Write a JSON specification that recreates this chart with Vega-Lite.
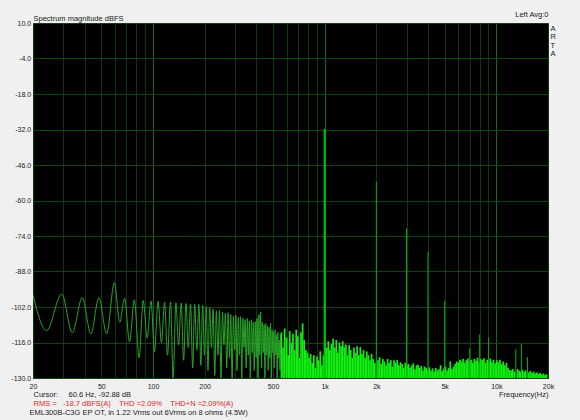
{
  "$schema": "https://vega.github.io/schema/vega-lite/v6.json",
  "width": 515,
  "height": 355,
  "autosize": {"type": "none"},
  "padding": {"left": 33, "top": 23, "right": 32, "bottom": 42},
  "background": "#f0f0f0",
  "config": {
    "font": "Liberation Sans",
    "view": {"fill": "#000000", "stroke": "#2f8f2f", "strokeWidth": 1},
    "axis": {
      "labelFont": "Liberation Sans",
      "labelFontSize": 7,
      "labelColor": "#1a1a1a",
      "titleFont": "Liberation Sans",
      "titleFontSize": 7.5,
      "titleFontWeight": "normal",
      "titleColor": "#1a1a1a",
      "titlePadding": 0
    }
  },
  "datasets": {
    "lf": [
      {"f":20,"d":-97.3},{"f":24,"d":-111.3},{"f":29.4,"d":-96.9},{"f":33.9,"d":-112.1},{"f":38.7,"d":-98.3},{"f":43.5,"d":-112.6},{"f":48.4,"d":-98.3},{"f":53.7,"d":-112.6},{"f":59.6,"d":-92.4},{"f":64,"d":-108},{"f":68.3,"d":-98.5},{"f":73,"d":-115.7},{"f":77.9,"d":-99.2},{"f":83,"d":-122},{"f":87.7,"d":-99.4},{"f":92.5,"d":-114.3},{"f":97.4,"d":-99.6},{"f":102,"d":-119.6},{"f":107,"d":-99.8},{"f":112,"d":-116},{"f":116.8,"d":-100},{"f":121.5,"d":-121},{"f":126.5,"d":-100},{"f":131,"d":-130},{"f":136,"d":-100.3},{"f":141,"d":-117},{"f":146,"d":-100.4},{"f":150.8,"d":-123},{"f":155.7,"d":-100.6},{"f":160.5,"d":-118},{"f":165.5,"d":-100.8},{"f":170.3,"d":-126},{"f":175,"d":-100.8},{"f":180,"d":-119},{"f":185,"d":-101},{"f":190,"d":-125},{"f":194.7,"d":-101.2},{"f":199.5,"d":-121},{"f":204.5,"d":-101.8},{"f":209,"d":-127},{"f":214,"d":-102.2},{"f":219,"d":-118},{"f":224,"d":-102.8},{"f":229,"d":-129},{"f":234,"d":-103.5},{"f":239,"d":-121},{"f":244,"d":-103.3},{"f":249,"d":-130},{"f":254,"d":-104},{"f":259,"d":-117},{"f":264,"d":-104.5},{"f":269,"d":-126},{"f":274,"d":-104.2},{"f":279,"d":-122},{"f":284,"d":-105},{"f":289,"d":-130},{"f":294,"d":-105.5},{"f":299,"d":-119},{"f":304,"d":-105.2},{"f":309,"d":-127},{"f":314,"d":-106},{"f":319,"d":-121},{"f":324,"d":-105.8},{"f":329,"d":-130},{"f":334,"d":-106.5},{"f":339,"d":-118},{"f":344,"d":-107},{"f":349,"d":-126},{"f":354,"d":-106.5},{"f":359,"d":-121},{"f":364,"d":-107.5},{"f":369,"d":-130},{"f":374,"d":-107},{"f":379,"d":-120},{"f":384,"d":-108},{"f":389,"d":-127},{"f":394,"d":-107.8},{"f":399,"d":-122},{"f":404,"d":-106.5},{"f":409,"d":-130},{"f":414,"d":-105},{"f":419,"d":-121},{"f":424,"d":-103.9},{"f":429,"d":-126},{"f":434,"d":-108},{"f":439,"d":-120},{"f":444,"d":-109},{"f":449,"d":-130},{"f":454,"d":-108.5},{"f":459,"d":-121},{"f":464,"d":-109.5},{"f":469,"d":-127},{"f":474,"d":-110},{"f":479,"d":-122},{"f":484,"d":-108.5},{"f":489,"d":-130},{"f":494,"d":-111},{"f":499,"d":-120},{"f":504,"d":-112},{"f":509,"d":-126},{"f":514,"d":-111},{"f":519,"d":-121},{"f":524,"d":-113},{"f":529,"d":-130},{"f":534,"d":-112},{"f":539,"d":-122},{"f":544,"d":-115},{"f":549,"d":-127},{"f":554,"d":-113}
    ],
    "noise": [
      {"f":560,"d":-112},{"f":572,"d":-118},{"f":585,"d":-110.5},{"f":600,"d":-114},{"f":613,"d":-121},{"f":626,"d":-111.5},{"f":640,"d":-116},{"f":654,"d":-112.5},{"f":668,"d":-119},{"f":683,"d":-111},{"f":698,"d":-113.5},{"f":713,"d":-122},{"f":728,"d":-112},{"f":744,"d":-108.5},{"f":760,"d":-115},{"f":777,"d":-119},{"f":794,"d":-120},{"f":811,"d":-122},{"f":829,"d":-120.5},{"f":847,"d":-124},{"f":865,"d":-121},{"f":884,"d":-126},{"f":903,"d":-121.5},{"f":923,"d":-123},{"f":943,"d":-119.5},{"f":963,"d":-125},{"f":984,"d":-121},
      {"f":1005,"d":-116},{"f":1027,"d":-118},{"f":1050,"d":-115.5},{"f":1072,"d":-119},{"f":1096,"d":-116.5},{"f":1120,"d":-114.5},{"f":1144,"d":-118},{"f":1169,"d":-115},{"f":1194,"d":-120},{"f":1220,"d":-116},{"f":1247,"d":-117.5},{"f":1274,"d":-115.5},{"f":1302,"d":-118},{"f":1330,"d":-116.8},{"f":1359,"d":-121},{"f":1389,"d":-117},{"f":1419,"d":-119},{"f":1450,"d":-122},{"f":1481,"d":-118},{"f":1513,"d":-120},{"f":1546,"d":-117.5},{"f":1580,"d":-121},{"f":1614,"d":-117.8},{"f":1649,"d":-120.5},{"f":1685,"d":-119},{"f":1722,"d":-122},{"f":1759,"d":-119.5},{"f":1798,"d":-121},{"f":1837,"d":-123},{"f":1877,"d":-120.5},{"f":1918,"d":-122.5},{"f":1959,"d":-124},
      {"f":2045,"d":-123},{"f":2090,"d":-121.8},{"f":2135,"d":-124.5},{"f":2182,"d":-122.5},{"f":2229,"d":-123.5},{"f":2278,"d":-125},{"f":2327,"d":-122.5},{"f":2378,"d":-124},{"f":2430,"d":-123},{"f":2483,"d":-125.5},{"f":2537,"d":-123},{"f":2592,"d":-124},{"f":2648,"d":-122.8},{"f":2706,"d":-125},{"f":2765,"d":-123.8},{"f":2825,"d":-124.5},{"f":2887,"d":-126},{"f":2950,"d":-124},{"f":3014,"d":-125},{"f":3079,"d":-124.5},{"f":3146,"d":-126},{"f":3215,"d":-125},{"f":3285,"d":-124.2},{"f":3356,"d":-126.5},{"f":3429,"d":-125},{"f":3504,"d":-124.8},{"f":3580,"d":-126},{"f":3658,"d":-125.2},{"f":3738,"d":-127},{"f":3819,"d":-125.5},{"f":3902,"d":-126},{"f":3987,"d":-126.8},
      {"f":4074,"d":-125.8},{"f":4163,"d":-127},{"f":4253,"d":-126.2},{"f":4346,"d":-127.5},{"f":4440,"d":-126},{"f":4537,"d":-127},{"f":4636,"d":-126.5},{"f":4737,"d":-125},{"f":4840,"d":-127.3},{"f":4945,"d":-126.3},{"f":5053,"d":-125.5},{"f":5163,"d":-127},{"f":5275,"d":-126},{"f":5390,"d":-123.5},{"f":5507,"d":-126.5},{"f":5627,"d":-125.5},{"f":5749,"d":-124.5},{"f":5875,"d":-123.5},{"f":6002,"d":-124},{"f":6133,"d":-122.8},{"f":6267,"d":-123.5},{"f":6403,"d":-122.5},{"f":6542,"d":-124},{"f":6685,"d":-123},{"f":6830,"d":-122.3},{"f":6979,"d":-123.5},{"f":7131,"d":-122.8},{"f":7286,"d":-124},{"f":7445,"d":-122.5},{"f":7607,"d":-123.2},{"f":7772,"d":-122},{"f":7942,"d":-123.8},
      {"f":8114,"d":-122.5},{"f":8291,"d":-123},{"f":8471,"d":-122.2},{"f":8656,"d":-124},{"f":8844,"d":-122.8},{"f":9036,"d":-123.5},{"f":9233,"d":-122.3},{"f":9434,"d":-123.8},{"f":9640,"d":-122.8},{"f":9849,"d":-124.2},{"f":10064,"d":-123},{"f":10283,"d":-123.8},{"f":10507,"d":-122.8},{"f":10735,"d":-124.5},{"f":10969,"d":-123.5},{"f":11207,"d":-125},{"f":11451,"d":-124},{"f":11700,"d":-126},{"f":11955,"d":-126.8},{"f":12215,"d":-127},{"f":12481,"d":-126.5},{"f":12752,"d":-127.5},{"f":13313,"d":-126.5},{"f":13603,"d":-127.2},{"f":13899,"d":-127.5},{"f":14201,"d":-126.8},{"f":14510,"d":-127.6},{"f":14826,"d":-127},{"f":15478,"d":-127.8},{"f":15815,"d":-127.2},{"f":16159,"d":-128},{"f":16510,"d":-127.5},{"f":16870,"d":-128.2},{"f":17237,"d":-127.8},{"f":17611,"d":-128.4},{"f":17995,"d":-128},{"f":18386,"d":-128.6},{"f":18786,"d":-128.2},{"f":19195,"d":-128.8},{"f":19613,"d":-128.5}
    ],
    "harm": [
      {"f":2000,"d":-52.7},{"f":3000,"d":-71},{"f":4000,"d":-80.3},{"f":5000,"d":-99.6},{"f":7000,"d":-118.3},{"f":8000,"d":-112.8},{"f":9000,"d":-114.1},{"f":13000,"d":-118.6},{"f":14000,"d":-116.6},{"f":15200,"d":-121.7}
    ],
    "fund": [{"f":1000,"d":-31.8}]
  },
  "resolve": {"axis": {"x": "independent", "y": "independent"}},
  "layer": [
    {
      "mark": {"type": "rule", "color": "#85851c", "strokeWidth": 1},
      "encoding": {
        "x": {"datum": 60.6, "type": "quantitative", "scale": {"type": "log", "domain": [20, 20000], "nice": false},
          "axis": {"orient": "bottom", "labels": false, "ticks": false, "domain": false, "grid": false,
            "title": "EML300B-C3G EP OT, in 1.22 Vrms out 6Vrms on 8 ohms (4.5W)",
            "titleX": -4, "titleY": 34.3, "titleAlign": "left", "titleBaseline": "middle"}}
      }
    },
    {
      "data": {"name": "lf"},
      "mark": {"type": "line", "color": "#2aa52a", "strokeWidth": 1, "interpolate": "monotone", "clip": true},
      "encoding": {
        "x": {"field": "f", "type": "quantitative", "scale": {"type": "log", "domain": [20, 20000], "nice": false},
          "axis": {"orient": "bottom",
            "values": [20,30,40,50,60,70,80,90,100,200,300,400,500,600,700,800,900,1000,2000,3000,4000,5000,6000,7000,8000,9000,10000,20000],
            "labelExpr": "indexof([20,50,100,200,500,1000,2000,5000,10000,20000], datum.value) >= 0 ? (datum.value >= 1000 ? (datum.value / 1000) + 'k' : '' + datum.value) : ''",
            "labelOverlap": false, "labelFlush": false, "labelPadding": 4.5,
            "ticks": false, "domain": false,
            "grid": true, "gridOpacity": 1, "gridWidth": 1,
            "gridColor": {"condition": {"test": "datum.value == 100 || datum.value == 1000 || datum.value == 10000", "value": "#1b681b"}, "value": "#0c3a0c"},
            "title": "Cursor:\u00a0\u00a0\u00a0\u00a0 60.6 Hz, -92.88 dB",
            "titleX": 0, "titleY": 16.3, "titleAlign": "left", "titleBaseline": "middle"}},
        "y": {"field": "d", "type": "quantitative", "scale": {"domain": [-130, 10], "nice": false, "zero": false},
          "axis": {"orient": "left",
            "values": [10,-4,-18,-32,-46,-60,-74,-88,-102,-116,-130],
            "labelExpr": "replace(format(datum.value, '.1f'), '\u2212', '-')",
            "labelPadding": 2.3, "ticks": false, "domain": false,
            "grid": true, "gridColor": "#0f450f", "gridOpacity": 1,
            "title": "Spectrum magnitude dBFS",
            "titleAngle": 0, "titleX": 0, "titleY": -4.7, "titleAlign": "left", "titleBaseline": "middle"}}
      }
    },
    {
      "data": {"name": "noise"},
      "mark": {"type": "rule", "color": "#10f010", "strokeWidth": 1.7, "clip": true},
      "encoding": {
        "x": {"field": "f", "type": "quantitative", "scale": {"type": "log", "domain": [20, 20000], "nice": false},
          "axis": {"orient": "bottom", "labels": false, "ticks": false, "domain": false, "grid": false,
            "title": "RMS =\u00a0\u00a0 -18.7 dBFS(A)\u00a0\u00a0\u00a0 THD =2.09%\u00a0\u00a0\u00a0 THD+N =2.09%(A)",
            "titleColor": "#d42a2a",
            "titleX": 0, "titleY": 25.3, "titleAlign": "left", "titleBaseline": "middle"}},
        "y": {"field": "d", "type": "quantitative",
          "axis": {"orient": "left", "labels": false, "ticks": false, "domain": false, "grid": false,
            "title": "Frequency(Hz)",
            "titleAngle": 0, "titleX": 515, "titleY": 371.3, "titleAlign": "right", "titleBaseline": "middle"}},
        "y2": {"datum": -130}
      }
    },
    {
      "data": {"name": "harm"},
      "mark": {"type": "rule", "color": "#00b400", "strokeWidth": 1, "clip": true},
      "encoding": {
        "x": {"field": "f", "type": "quantitative",
          "axis": {"orient": "top", "labels": false, "ticks": false, "domain": false, "grid": false,
            "title": "Left  Avg:0",
            "titleX": 515, "titleY": -9, "titleAlign": "right", "titleBaseline": "middle"}},
        "y": {"field": "d", "type": "quantitative",
          "axis": {"orient": "right", "labels": false, "ticks": false, "domain": false, "grid": false,
            "title": ["A", "R", "T", "A"],
            "titleAngle": 0, "titleX": 2, "titleY": 1, "titleAlign": "left", "titleBaseline": "top", "titleLineHeight": 8.5}},
        "y2": {"datum": -130}
      }
    },
    {
      "data": {"name": "fund"},
      "mark": {"type": "rule", "color": "#00c400", "strokeWidth": 2, "clip": true},
      "encoding": {
        "x": {"field": "f", "type": "quantitative", "axis": null},
        "y": {"field": "d", "type": "quantitative", "axis": null},
        "y2": {"datum": -130}
      }
    }
  ]
}
